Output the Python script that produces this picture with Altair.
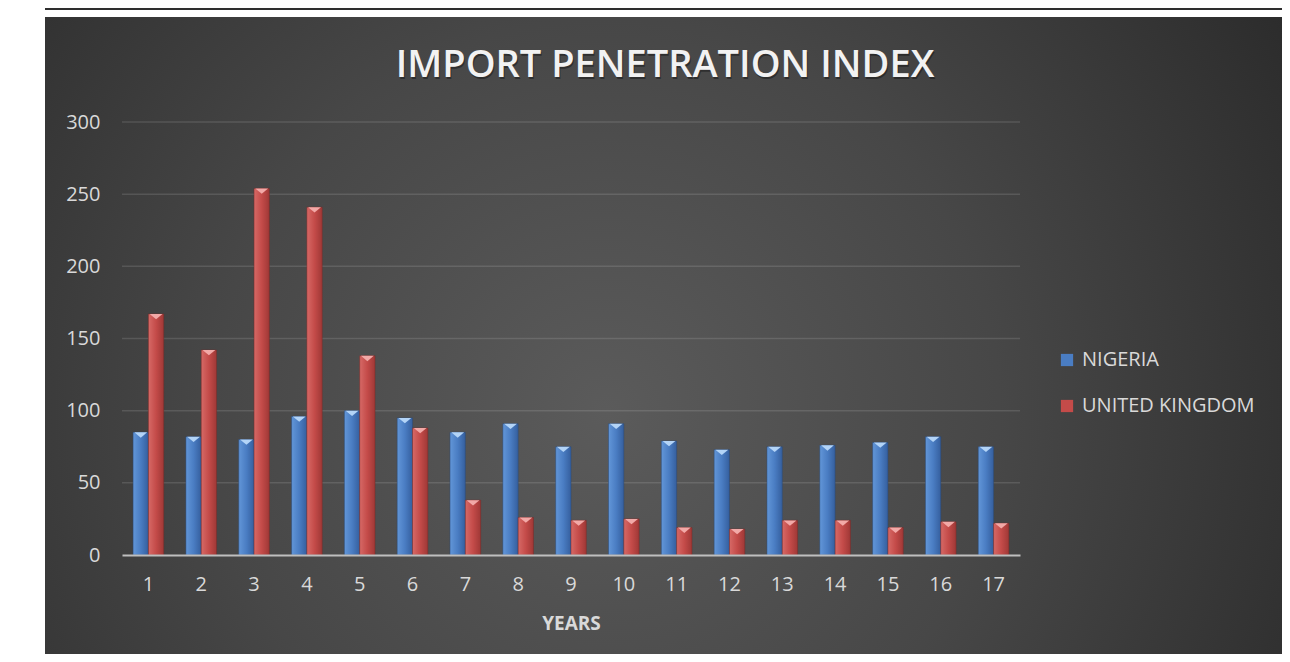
import altair as alt
import pandas as pd

years = [str(i) for i in range(1, 18)]
nigeria = [85, 82, 80, 96, 100, 95, 85, 91, 75, 91, 79, 73, 75, 76, 78, 82, 75]
uk = [167, 142, 254, 241, 138, 88, 38, 26, 24, 25, 19, 18, 24, 24, 19, 23, 22]
series = ["NIGERIA", "UNITED KINGDOM"]
y_ticks = [0, 50, 100, 150, 200, 250, 300]
title_text = "IMPORT PENETRATION INDEX"

rows = []
for i, yr in enumerate(years):
    rows.append({"year": yr, "series": series[0], "value": nigeria[i]})
    rows.append({"year": yr, "series": series[1], "value": uk[i]})
df = pd.DataFrame(rows)
grid_df = pd.DataFrame({"value": [v for v in y_ticks if v > 0]})

FONT = "Open Sans"
W, H = 898, 433

x_enc = alt.X("year:N", sort=years, title="YEARS",
              scale=alt.Scale(paddingInner=0.42, paddingOuter=0.21),
              axis=alt.Axis(labelAngle=0, labelFontSize=20, labelColor="#d9d9d9",
                            labelFont=FONT, labelPadding=19, ticks=False, grid=False,
                            domainColor="#bfbfbf", domainWidth=2, zindex=1,
                            titleFont=FONT, titleFontSize=19, titleFontWeight="bold",
                            titleColor="#d9d9d9", titlePadding=20))
y_enc = alt.Y("value:Q", title=None,
              scale=alt.Scale(domain=[0, 300], nice=False),
              axis=alt.Axis(values=y_ticks, labelFontSize=20, labelColor="#d9d9d9",
                            labelFont=FONT, labelPadding=22, ticks=False, domain=False,
                            grid=False, zindex=1))
xo_enc = alt.XOffset("series:N", scale=alt.Scale(domain=series, paddingInner=0, paddingOuter=0))

bg_grad = alt.RadialGradient(
    gradient="radial", x1=0.45, y1=0.55, r1=0, x2=0.45, y2=0.55, r2=0.7,
    stops=[alt.GradientStop(color="#5b5b5b", offset=0),
           alt.GradientStop(color="#474747", offset=0.45),
           alt.GradientStop(color="#262626", offset=1)])

one = alt.Data(values=[{}])
bg = alt.Chart(one).mark_rect(fill=bg_grad).encode(
    x=alt.value(-77), x2=alt.value(1170), y=alt.value(-105), y2=alt.value(560))
band = alt.Chart(one).mark_rect(fill="#2e2e2e").encode(
    x=alt.value(-77), x2=alt.value(1170), y=alt.value(-130), y2=alt.value(-112))

title_shadow = alt.Chart(one).mark_text(
    text=title_text, font=FONT, fontSize=38, fontWeight=600, color="#000000",
    opacity=0.35, align="center", baseline="alphabetic", dx=1, dy=2).encode(
    x=alt.value(543), y=alt.value(-45))
title = alt.Chart(one).mark_text(
    text=title_text, font=FONT, fontSize=38, fontWeight=600, color="#f2f2f2",
    align="center", baseline="alphabetic").encode(x=alt.value(543), y=alt.value(-45))

grid = alt.Chart(grid_df).mark_rule(color="#ffffff", opacity=0.12, strokeWidth=1.5).encode(
    y=alt.Y("value:Q", scale=alt.Scale(domain=[0, 300], nice=False)),
    x=alt.value(0), x2=alt.value(W))

blue_grad = alt.LinearGradient(
    gradient="linear", x1=0, y1=0, x2=1, y2=0,
    stops=[alt.GradientStop(color="#6296d8", offset=0),
           alt.GradientStop(color="#4a7dc3", offset=0.5),
           alt.GradientStop(color="#355f9e", offset=1)])
red_grad = alt.LinearGradient(
    gradient="linear", x1=0, y1=0, x2=1, y2=0,
    stops=[alt.GradientStop(color="#d66966", offset=0),
           alt.GradientStop(color="#c44b49", offset=0.5),
           alt.GradientStop(color="#9f3836", offset=1)])

base = alt.Chart(df)

bars_n = base.transform_filter(alt.datum.series == series[0]).mark_bar(
    fill=blue_grad, stroke="#2a4a78", strokeWidth=0.5).encode(x=x_enc, y=y_enc, xOffset=xo_enc)
bars_u = base.transform_filter(alt.datum.series == series[1]).mark_bar(
    fill=red_grad, stroke="#7a2a28", strokeWidth=0.5).encode(x=x_enc, y=y_enc, xOffset=xo_enc)

tri_shape = "M-0.85,-1L0.85,-1L0,-0.3Z"
tri_n = base.transform_filter(alt.datum.series == series[0]).mark_point(
    shape=tri_shape, filled=True, fill="#b3d4f7", opacity=1, size=230, yOffset=7.6,
    strokeWidth=0).encode(x=x_enc, y=y_enc, xOffset=xo_enc)
tri_u = base.transform_filter(alt.datum.series == series[1]).mark_point(
    shape=tri_shape, filled=True, fill="#f2a9a7", opacity=1, size=230, yOffset=7.6,
    strokeWidth=0).encode(x=x_enc, y=y_enc, xOffset=xo_enc)

legend_layer = base.mark_square(opacity=0).encode(
    x=x_enc, y=y_enc, xOffset=xo_enc,
    color=alt.Color("series:N", scale=alt.Scale(domain=series, range=["#4a7dc3", "#c44b49"]),
                    legend=alt.Legend(title=None, orient="none", legendX=935, legendY=228,
                                      symbolType="square", symbolSize=150, symbolOpacity=1,
                                      symbolStrokeWidth=0, labelFont=FONT, labelFontSize=20,
                                      labelColor="#d9d9d9", labelOffset=5, rowPadding=26,
                                      labelLimit=400)))

chart = alt.layer(bg, band, title_shadow, title, grid, bars_n, bars_u, tri_n, tri_u,
                  legend_layer).properties(
    width=W, height=H,
    padding={"left": 114, "top": 114, "right": 262, "bottom": 99},
    autosize=alt.AutoSizeParams(type="none"),
    background="#ffffff",
).configure_view(stroke=None)

chart.save("out.html", embed_options={"renderer": "svg", "actions": False})
